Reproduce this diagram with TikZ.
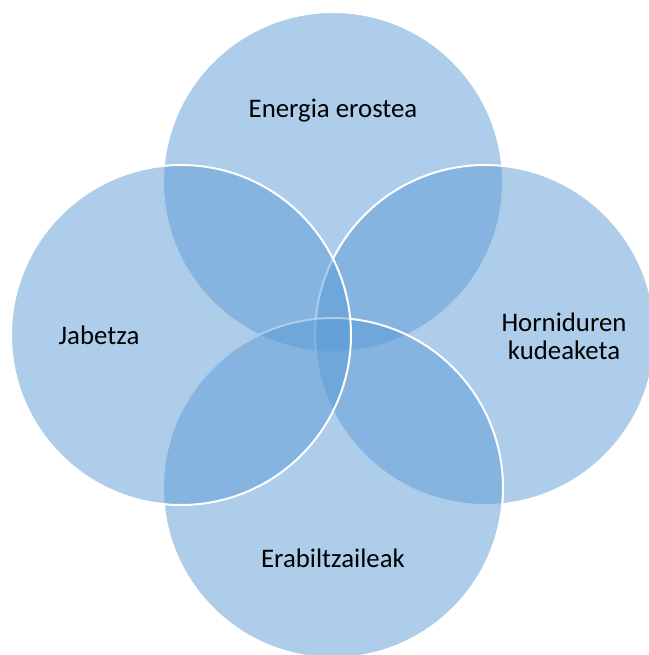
\documentclass[tikz,border=0pt]{standalone}
\usepackage{fontspec}
\setmainfont{Carlito}
\usepackage{xcolor}
\usetikzlibrary{positioning}
\definecolor{setblue}{RGB}{91,155,213}
\tikzset{setcircle/.style={circle, minimum size=340pt, inner sep=0pt,
fill=setblue, fill opacity=0.5, draw=white, draw opacity=1, line width=2pt},
setlabel/.style={align=center, text=black, font=\fontsize{26.8}{28}\selectfont}}

\begin{document}
\begin{tikzpicture}[x=1pt, y=-1pt]
	\useasboundingbox (0,0) rectangle (648,655);
	% the four sets
	\node[setcircle] (energy) at (333,182) {};
	\node[setcircle] (supply) at (485,335) {};
	\node[setcircle] (users) at (333,488) {};
	\node[setcircle] (owner) at (181,335) {};
	% their names
	\node[setlabel] (energy-text) at (333,111) {Energia erostea};
	\node[setlabel] (supply-text) at (564,336) {Horniduren\\kudeaketa};
	\node[setlabel] (users-text) at (333,558) {Erabiltzaileak};
	\node[setlabel] (owner-text) at (99,335) {Jabetza};
\end{tikzpicture}
\end{document}
